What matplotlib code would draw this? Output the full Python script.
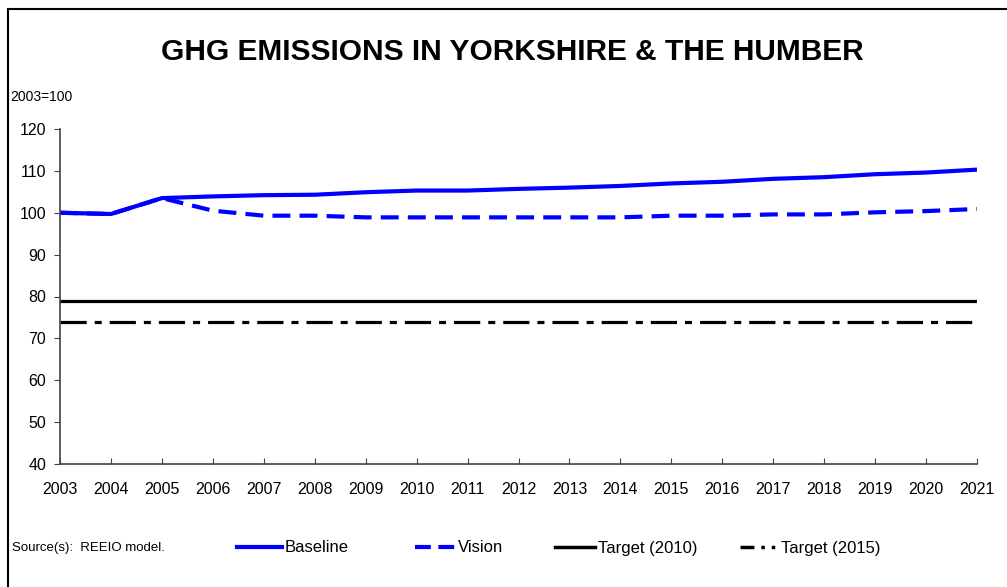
import matplotlib
matplotlib.use("Agg")
from matplotlib import pyplot as plt
from matplotlib.lines import Line2D
from matplotlib.patches import Rectangle

plt.rcParams['font.family'] = ['Liberation Sans', 'DejaVu Sans']

years = list(range(2003, 2022))
baseline = [100.0, 99.7, 103.5, 103.9, 104.2, 104.3, 104.9, 105.3, 105.3, 105.7,
            106.0, 106.4, 107.0, 107.4, 108.1, 108.5, 109.2, 109.6, 110.3]
vision = [100.0, 99.7, 103.5, 100.5, 99.3, 99.3, 98.9, 98.9, 98.9, 98.9,
          98.9, 98.9, 99.3, 99.3, 99.6, 99.6, 100.1, 100.4, 100.9]
target_2010 = 79
target_2015 = 74

W, H = 1007, 587
fig = plt.figure(figsize=(W / 100, H / 100), dpi=100)
# axes box in pixels: left 60, right 977, top 129, bottom 464
ax = fig.add_axes([60 / W, 1 - 464 / H, (977 - 60) / W, (464 - 129) / H])

# frame around the chart (only left/top visible)
fig.patches.append(Rectangle((8 / W, -0.1), 1.2, 1 - 9 / H + 0.1, transform=fig.transFigure,
                             fill=False, edgecolor='black', linewidth=1.5))

ax.plot(years, baseline, color='#0000ff', lw=3, solid_capstyle='butt')
ax.plot(years, vision, color='#0000ff', lw=3, dashes=(4.3, 2.2))
ax.plot([years[0], years[-1]], [target_2010] * 2, color='black', lw=2.3)
ax.plot([years[0], years[-1]], [target_2015] * 2, color='black', lw=2.3, dashes=(8.2, 2.5, 2.2, 2.5))

ax.set_xlim(2003, 2021)
ax.set_ylim(40, 120)
ax.set_xticks(years)
ax.set_yticks(range(40, 121, 10))
ax.tick_params(axis='x', direction='in', length=4, labelsize=11.5, pad=13, color='#444444')
ax.tick_params(axis='y', direction='out', length=4, labelsize=11.5, pad=6, color='#444444')
for s in ['top', 'right']:
    ax.spines[s].set_visible(False)
for s in ['left', 'bottom']:
    ax.spines[s].set_color('#444444')
    ax.spines[s].set_linewidth(1.2)

fig.text(512 / W, 1 - 52 / H, "GHG EMISSIONS IN YORKSHIRE & THE HUMBER", ha='center', va='center',
         fontsize=21.5, fontweight='bold')
fig.text(10 / W, 1 - 97 / H, "2003=100", ha='left', va='center', fontsize=10)
fig.text(12 / W, 1 - 548 / H, "Source(s):  REEIO model.", ha='left', va='center', fontsize=9.5)

handles = [
    Line2D([], [], color='#0000ff', lw=3),
    Line2D([], [], color='#0000ff', lw=3, dashes=(3.8, 1.8)),
    Line2D([], [], color='black', lw=2.5),
    Line2D([], [], color='black', lw=2.5, dashes=(4, 2, 1, 2, 1, 2)),
]
labels = ["Baseline", "Vision", "Target (2010)", "Target (2015)"]
starts = [237, 415, 555, 740]
lengths = [2.7, 2.4, 2.4, 2.3]
for h, lab, x0, hl in zip(handles, labels, starts, lengths):
    fig.legend([h], [lab], loc='center left', bbox_to_anchor=(x0 / W, 1 - 548 / H),
               frameon=False, fontsize=12, handlelength=hl, handletextpad=0.15,
               borderpad=0, borderaxespad=0)

fig.savefig("out.png", dpi=100)
